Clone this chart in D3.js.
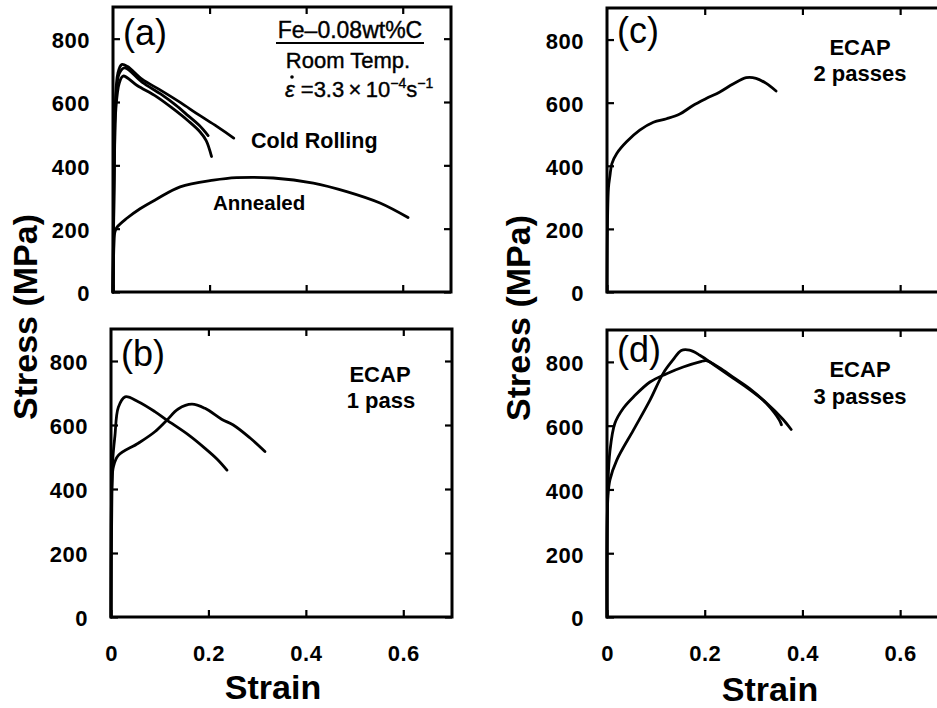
<!DOCTYPE html>
<html>
<head>
<meta charset="utf-8">
<script src="https://cdn.jsdelivr.net/npm/d3@7"></script>
<style>
  html, body { margin: 0; padding: 0; background: #fff; }
  svg { display: block; font-family: "Liberation Sans", Arial, sans-serif; }
</style>
</head>
<body>
<svg id="chart" width="937" height="708"></svg>
<script>
// Tensile stress–strain curves of Fe-0.08wt%C, [strain, stress (MPa)]
const coldRolling1 = [[0,0],[0.002,420],[0.005,600],[0.010,690],[0.018,718],[0.030,712],[0.060,672],[0.100,636],[0.140,598],[0.177,560],[0.215,523],[0.250,486]];
const coldRolling2 = [[0,0],[0.003,430],[0.006,610],[0.013,690],[0.024,708],[0.060,663],[0.100,624],[0.130,590],[0.156,556],[0.178,527],[0.197,494]];
const coldRolling3 = [[0,0],[0.003,420],[0.006,580],[0.013,660],[0.021,682],[0.050,652],[0.090,617],[0.125,578],[0.156,540],[0.180,506],[0.193,478],[0.204,428]];
const annealed = [[0,0],[0.002,150],[0.004,190],[0.008,204],[0.028,232],[0.056,263],[0.090,293],[0.139,332],[0.208,353],[0.256,361],[0.332,360],[0.415,344],[0.484,317],[0.553,281],[0.611,235]];

const ecap1A = [[0,0],[0.002,400],[0.004,500],[0.008,565],[0.015,655],[0.029,688],[0.056,673],[0.090,642],[0.114,616],[0.159,569],[0.193,527],[0.218,493],[0.238,459]];
const ecap1B = [[0,0],[0.002,420],[0.005,470],[0.015,505],[0.056,543],[0.090,579],[0.114,614],[0.138,650],[0.166,665],[0.193,652],[0.227,618],[0.251,600],[0.285,560],[0.316,517]];

const ecap2 = [[0,0],[0.003,330],[0.006,368],[0.010,407],[0.020,439],[0.040,476],[0.067,513],[0.095,538],[0.122,549],[0.149,564],[0.176,591],[0.203,613],[0.231,634],[0.258,659],[0.285,679],[0.305,677],[0.326,661],[0.346,637]];

const ecap3A = [[0,0],[0.002,420],[0.006,520],[0.016,607],[0.033,654],[0.054,690],[0.088,737],[0.122,763],[0.156,784],[0.190,800],[0.203,804],[0.230,782],[0.258,752],[0.292,716],[0.326,670],[0.353,617],[0.357,603]];
const ecap3B = [[0,0],[0.002,380],[0.006,430],[0.020,492],[0.054,586],[0.088,680],[0.115,764],[0.135,806],[0.152,836],[0.169,837],[0.190,821],[0.224,785],[0.258,749],[0.292,713],[0.326,672],[0.360,620],[0.377,588]];

const strainTicks = [0, 0.2, 0.4, 0.6];
const stressTicks = [0, 200, 400, 600, 800];
const strainMax = 0.7;
const stressMax = 900;

const svg = d3.select("#chart");

const panels = [
  { id: "a", left: 113, top: 7,   w: 338, h: 285, curves: [coldRolling1, coldRolling2, coldRolling3, annealed], xLabels: false, tagY: 45 },
  { id: "b", left: 111, top: 329, w: 341, h: 288, curves: [ecap1A, ecap1B], xLabels: true, tagY: 366 },
  { id: "c", left: 607, top: 8,   w: 342, h: 284, curves: [ecap2], xLabels: false, tagY: 43 },
  { id: "d", left: 607, top: 330, w: 342, h: 287, curves: [ecap3A, ecap3B], xLabels: true, tagY: 362 }
];

panels.forEach(p => {
  const x = d3.scaleLinear().domain([0, strainMax]).range([p.left, p.left + p.w]);
  const y = d3.scaleLinear().domain([0, stressMax]).range([p.top + p.h, p.top]);
  const g = svg.append("g").attr("class", "panel-" + p.id);

  // inward ticks on all four sides
  const axL = d3.axisLeft(y).tickValues(stressTicks).tickSize(-7).tickPadding(23).tickSizeOuter(0);
  const axR = d3.axisRight(y).tickValues(stressTicks).tickSize(-7).tickFormat("").tickSizeOuter(0);
  const axT = d3.axisTop(x).tickValues(strainTicks.slice(1)).tickSize(-7).tickFormat("").tickSizeOuter(0);
  const axB = d3.axisBottom(x).tickValues(strainTicks).tickSize(-7).tickPadding(28).tickSizeOuter(0);
  if (!p.xLabels) axB.tickFormat("");
  else axB.tickFormat(d => d === 0 ? "0" : d3.format(".1f")(d));

  const gl = g.append("g").attr("transform", `translate(${p.left},0)`).call(axL);
  const gr = g.append("g").attr("transform", `translate(${p.left + p.w},0)`).call(axR);
  const gt = g.append("g").attr("transform", `translate(0,${p.top})`).call(axT);
  const gb = g.append("g").attr("transform", `translate(0,${p.top + p.h})`).call(axB);
  [gl, gr, gt, gb].forEach(a => {
    a.select(".domain").remove();
    a.selectAll(".tick line").attr("stroke", "#000").attr("stroke-width", 2.2);
    a.selectAll(".tick text")
      .attr("fill", "#000")
      .style("font-size", "22px")
      .style("font-weight", "bold")
      .style("letter-spacing", "0.5px")
      .style("font-family", '"Liberation Sans", Arial, sans-serif');
  });
  gl.selectAll(".tick text").attr("dy", "0.4em");

  // frame
  g.append("rect")
    .attr("x", p.left).attr("y", p.top)
    .attr("width", p.w).attr("height", p.h)
    .attr("fill", "none").attr("stroke", "#000").attr("stroke-width", 3);

  const line = d3.line()
    .x(d => x(d[0])).y(d => y(d[1]))
    .curve(d3.curveCatmullRom.alpha(0.5));

  g.selectAll("path.curve").data(p.curves).join("path")
    .attr("class", "curve")
    .attr("d", line)
    .attr("fill", "none")
    .attr("stroke", "#000")
    .attr("stroke-width", 2.8)
    .attr("stroke-linejoin", "round")
    .attr("stroke-linecap", "round");

  g.append("text")
    .attr("x", p.left + 10).attr("y", p.tagY)
    .style("font-size", "36px")
    .style("font-weight", "normal")
    .attr("fill", "#000")
    .text(`(${p.id})`);
});

// annotations
function label(x, y, txt, opts = {}) {
  return svg.append("text")
    .attr("x", x).attr("y", y)
    .attr("text-anchor", opts.anchor || "start")
    .style("font-size", (opts.size || 21) + "px")
    .style("font-weight", opts.weight || "bold")
    .attr("fill", "#000")
    .text(txt);
}

label(350, 38, "Fe\u20130.08wt%C", { anchor: "middle", size: 23, weight: "normal" })
  .attr("stroke", "#000").attr("stroke-width", 0.4);
svg.append("line").attr("x1", 276).attr("x2", 424).attr("y1", 43).attr("y2", 43)
  .attr("stroke", "#000").attr("stroke-width", 2);
label(348, 68, "Room Temp.", { anchor: "middle", size: 22, weight: "normal" })
  .attr("stroke", "#000").attr("stroke-width", 0.4);

// strain rate: italic epsilon with a dot above
const rate = svg.append("text").attr("x", 285).attr("y", 97)
  .style("font-size", "22px").attr("fill", "#000")
  .attr("stroke", "#000").attr("stroke-width", 0.4);
rate.append("tspan").style("font-style", "italic").text("\u03B5");
rate.append("tspan").text(" =3.3\u2009\u00D7\u200910");
rate.append("tspan").attr("dy", -9).style("font-size", "14px").text("\u22124");
rate.append("tspan").attr("dy", 9).text("s");
rate.append("tspan").attr("dy", -9).style("font-size", "14px").text("\u22121");
svg.append("circle").attr("cx", 292).attr("cy", 77).attr("r", 1.8).attr("fill", "#000");

label(251, 148, "Cold Rolling", { size: 21.5 });
label(213, 210, "Annealed", { size: 20.5 });

label(380, 382, "ECAP", { anchor: "middle", size: 22 });
label(381, 408, "1 pass", { anchor: "middle", size: 22 });
label(860, 55, "ECAP", { anchor: "middle", size: 22 });
label(860, 81, "2 passes", { anchor: "middle", size: 22 });
label(860, 377, "ECAP", { anchor: "middle", size: 22 });
label(860, 404, "3 passes", { anchor: "middle", size: 22 });

// axis titles
label(273, 699, "Strain", { anchor: "middle", size: 34 });
label(770, 701, "Strain", { anchor: "middle", size: 34 });
label(0, 0, "Stress (MPa)", { anchor: "middle", size: 34 })
  .attr("transform", "translate(37,317) rotate(-90)");
label(0, 0, "Stress (MPa)", { anchor: "middle", size: 34 })
  .attr("transform", "translate(530,318) rotate(-90)");
</script>
</body>
</html>
